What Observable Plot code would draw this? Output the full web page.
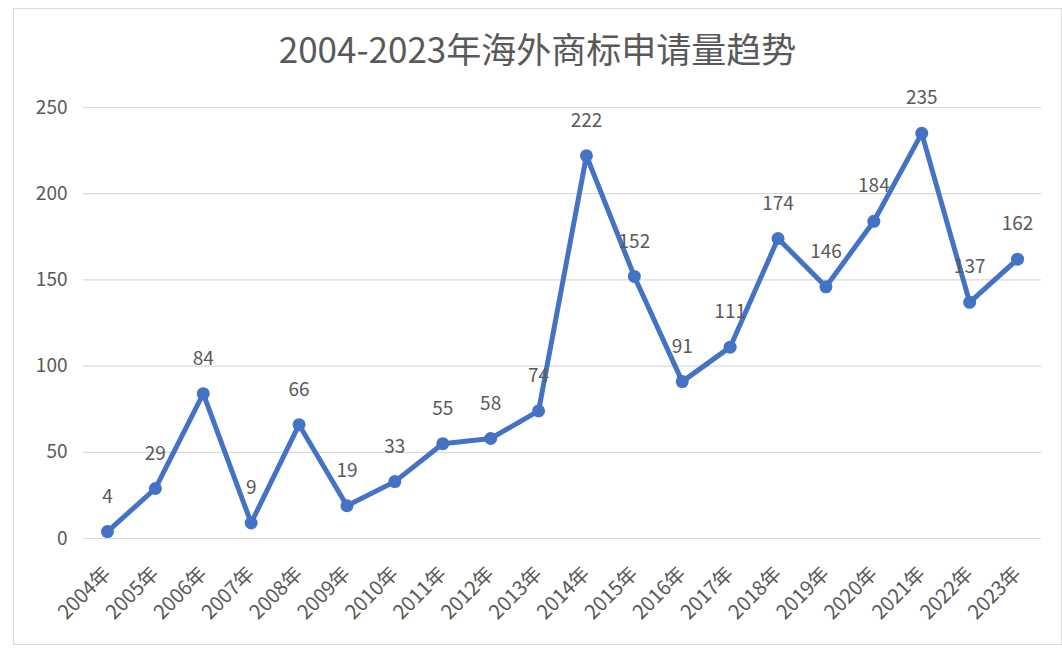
<!DOCTYPE html>
<html>
<head>
<meta charset="utf-8">
<script src="https://cdn.jsdelivr.net/npm/d3@7"></script>
<script src="https://cdn.jsdelivr.net/npm/@observablehq/plot@0.6"></script>
<style>
  html, body { margin: 0; padding: 0; background: #fff; }
  #frame {
    position: absolute; left: 13px; top: 8px; width: 1047px; height: 635px;
    border: 1px solid #d9d9d9; background: #fff;
    font-family: "Noto Sans CJK SC", "Noto Sans", sans-serif;
  }
  #title {
    position: absolute; left: 0; right: 0; top: 16px; text-align: center;
    font-size: 35px; color: #595959; line-height: 46px;
  }
  #chart { position: absolute; left: 0; top: 60px; }
</style>
</head>
<body>
<div id="frame">
  <div id="title">2004-2023年海外商标申请量趋势</div>
  <div id="chart"></div>
</div>
<script>
const years = ["2004年","2005年","2006年","2007年","2008年","2009年","2010年","2011年","2012年","2013年","2014年","2015年","2016年","2017年","2018年","2019年","2020年","2021年","2022年","2023年"];
const values = [4, 29, 84, 9, 66, 19, 33, 55, 58, 74, 222, 152, 91, 111, 174, 146, 184, 235, 137, 162];
const yTicks = [0, 50, 100, 150, 200, 250];

const data = years.map((y, i) => ({year: y, value: values[i]}));
const blue = "#4472C4";

const plot = Plot.plot({
  width: 1047,
  height: 576,
  marginTop: 38,
  marginLeft: 69,
  marginRight: 20,
  marginBottom: 107,
  style: {fontFamily: '"Noto Sans CJK SC", "Noto Sans", sans-serif', background: "transparent"},
  x: {type: "point", domain: years, padding: 0.5, round: false, label: null},
  y: {domain: [0, 250], label: null},
  marks: [
    Plot.ruleY(yTicks, {stroke: "#d9d9d9", strokeWidth: 1.2}),
    Plot.axisY({ticks: yTicks, tickSize: 0, tickPadding: 16, fontSize: 19, color: "#595959", label: null}),
    Plot.axisX({tickSize: 0, tickRotate: -45, tickPadding: 32, fontSize: 20, color: "#595959", label: null}),
    Plot.line(data, {x: "year", y: "value", stroke: blue, strokeWidth: 5, strokeLinejoin: "round"}),
    Plot.dot(data, {x: "year", y: "value", fill: blue, r: 6.5}),
    Plot.text(data, {x: "year", y: "value", text: d => String(d.value), dy: -35, fontSize: 19, fill: "#595959"})
  ]
});
document.getElementById("chart").appendChild(plot);
</script>
</body>
</html>
